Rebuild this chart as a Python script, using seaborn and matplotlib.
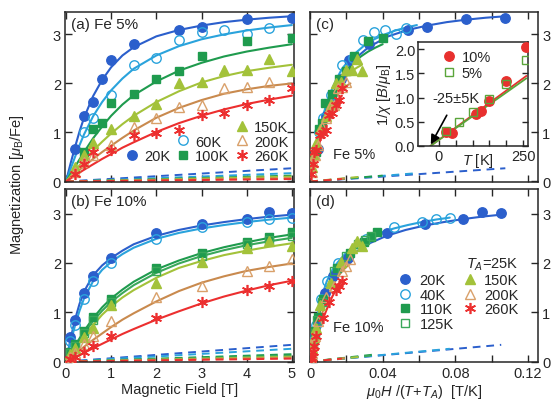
import matplotlib
matplotlib.use("Agg")
import matplotlib.pyplot as plt
from matplotlib.lines import Line2D
import seaborn as sns

# ---- data ----
temps_5 = ["20K", "60K", "100K", "150K", "200K", "260K"]
temps_10 = ["20K", "40K", "110K", "125K", "150K", "200K", "260K"]
# effective (T + T_A) used for the scaled panels (c), (d)
t_scale_5 = [46.5, 85, 125, 175, 225, 285]
t_scale_10 = [47.5, 65, 135, 150, 175, 225, 285]

# (a) Fe 5% measured points
field_a = {
    "20K": [0.2, 0.4, 0.6, 0.8, 1.0, 1.5, 2.5, 3.0, 4.0, 5.0],
    "60K": [0.4, 0.6, 1.0, 1.5, 2.0, 2.5, 3.0, 3.5, 4.0, 4.5],
    "100K": [0.4, 0.6, 0.8, 1.0, 1.5, 2.0, 2.5, 3.0, 4.0, 5.0],
    "150K": [0.2, 0.4, 0.6, 1.0, 1.5, 2.0, 2.5, 3.0, 3.5, 4.0, 4.5, 5.0],
    "200K": [0.2, 0.4, 0.6, 1.0, 1.5, 2.0, 2.5, 3.0, 3.5, 4.0, 4.5],
    "260K": [0.2, 0.4, 0.6, 1.0, 1.5, 2.0, 2.5, 3.0, 3.5, 4.0, 4.5, 5.0],
}
mag_a = {
    "20K": [0.66, 1.33, 1.63, 2.09, 2.47, 2.81, 3.08, 3.16, 3.31, 3.33],
    "60K": [1.0, 1.3, 1.76, 2.37, 2.51, 2.88, 3.05, 3.09, 3.0, 3.14],
    "100K": [0.6, 1.08, 1.2, 1.6, 1.78, 2.1, 2.25, 2.56, 2.86, 2.92],
    "150K": [0.3, 0.55, 0.78, 1.07, 1.34, 1.59, 2.0, 2.02, 2.27, 2.27, 2.5, 2.25],
    "200K": [0.2, 0.4, 0.55, 0.74, 1.11, 1.29, 1.52, 1.56, 1.9, 1.93, 2.03],
    "260K": [0.15, 0.35, 0.6, 0.64, 0.95, 0.98, 1.05, 1.35, 1.39, 1.56, 1.66, 1.91],
}
# (b) Fe 10% measured points
field_b = [0.1, 0.2, 0.4, 0.6, 1.0, 2.0, 3.0, 4.0, 4.5, 5.0]
mag_b = {
    "20K": [0.5, 0.84, 1.39, 1.73, 2.1, 2.6, 2.8, 2.9, 3.03, 3.02],
    "40K": [0.42, 0.75, 1.26, 1.64, 2.0, 2.48, 2.72, 2.84, 2.9, 2.92],
    "110K": [0.2, 0.35, 0.63, 0.9, 1.27, 1.89, 2.2, 2.43, 2.53, 2.63],
    "125K": [0.18, 0.32, 0.58, 0.84, 1.2, 1.84, 2.15, 2.38, 2.47, 2.55],
    "150K": [0.15, 0.28, 0.5, 0.68, 1.15, 1.6, 2.02, 2.3, 2.45, 2.35],
    "200K": [0.09, 0.18, 0.36, 0.52, 0.82, 1.3, 1.54, 1.84, 1.93, 2.08],
    "260K": [0.05, 0.1, 0.2, 0.32, 0.52, 0.89, 1.2, 1.45, 1.54, 1.63],
}

# fitted curves
fit_field = [0, 0.1, 0.2, 0.3, 0.4, 0.6, 0.8, 1.0, 1.25, 1.5, 2, 2.5, 3, 3.5, 4, 4.5, 5]
fit_a = {
    "20K": [0, 0.36, 0.7, 1.02, 1.3, 1.74, 2.07, 2.33, 2.57, 2.74, 2.96, 3.09, 3.18, 3.25, 3.3, 3.34, 3.37],
    "60K": [0, 0.25, 0.5, 0.74, 0.96, 1.33, 1.62, 1.86, 2.1, 2.3, 2.57, 2.76, 2.9, 3.0, 3.08, 3.14, 3.19],
    "100K": [0, 0.15, 0.3, 0.45, 0.6, 0.88, 1.12, 1.34, 1.57, 1.76, 2.04, 2.26, 2.42, 2.55, 2.65, 2.73, 2.8],
    "150K": [0, 0.11, 0.22, 0.33, 0.43, 0.63, 0.81, 0.98, 1.17, 1.34, 1.62, 1.84, 2.02, 2.15, 2.25, 2.32, 2.38],
    "200K": [0, 0.08, 0.16, 0.24, 0.31, 0.46, 0.6, 0.73, 0.89, 1.04, 1.3, 1.5, 1.66, 1.79, 1.88, 1.95, 2.0],
    "260K": [0, 0.06, 0.12, 0.18, 0.24, 0.35, 0.46, 0.56, 0.69, 0.8, 1.01, 1.19, 1.34, 1.47, 1.58, 1.67, 1.75],
}
fit_b = {
    "20K": [0, 0.45, 0.85, 1.17, 1.42, 1.75, 1.95, 2.1, 2.25, 2.38, 2.55, 2.67, 2.76, 2.83, 2.89, 2.94, 2.98],
    "40K": [0, 0.38, 0.73, 1.03, 1.28, 1.63, 1.86, 2.02, 2.18, 2.31, 2.49, 2.61, 2.7, 2.77, 2.83, 2.88, 2.92],
    "110K": [0, 0.16, 0.32, 0.47, 0.62, 0.88, 1.1, 1.28, 1.46, 1.62, 1.87, 2.05, 2.2, 2.32, 2.42, 2.51, 2.58],
    "125K": [0, 0.145, 0.29, 0.43, 0.57, 0.82, 1.03, 1.21, 1.39, 1.55, 1.8, 1.99, 2.14, 2.26, 2.36, 2.44, 2.51],
    "150K": [0, 0.13, 0.26, 0.39, 0.51, 0.74, 0.95, 1.12, 1.3, 1.45, 1.7, 1.9, 2.04, 2.16, 2.25, 2.33, 2.4],
    "200K": [0, 0.075, 0.15, 0.225, 0.3, 0.44, 0.57, 0.7, 0.85, 0.98, 1.22, 1.43, 1.6, 1.73, 1.84, 1.92, 1.99],
    "260K": [0, 0.045, 0.09, 0.135, 0.18, 0.27, 0.36, 0.45, 0.56, 0.66, 0.85, 1.02, 1.18, 1.32, 1.44, 1.55, 1.64],
}
# linear (dashed) contribution, value at 5 T
dash_end_a = [0.27, 0.17, 0.12, 0.1, 0.07, 0.05]
dash_end_b = [0.34, 0.26, 0.15, 0.12, 0.1, 0.08, 0.06]

# inset: 1/chi vs T
inset_t_10 = [20, 40, 110, 125, 150, 200, 260]
inset_chi_10 = [0.28, 0.27, 0.66, 0.73, 0.93, 1.34, 2.04]
inset_t_5 = [20, 60, 100, 150, 200, 260]
inset_chi_5 = [0.32, 0.5, 0.71, 0.97, 1.28, 1.78]
inset_fit_t = [-25, 260]
inset_fit_10 = [0, 1.45]
inset_fit_5 = [0, 1.40]

# ---- styles ----
colors = {"20K": "#2b5fcc", "40K": "#2aa3dc", "60K": "#2aa3dc", "100K": "#1f9b4e",
          "110K": "#1f9b4e", "125K": "#3aa85a", "150K": "#a3c23a", "200K": "#c98a4e",
          "260K": "#ec2f2f"}
marker_style = {
    "20K": dict(marker="o", ms=6.8),
    "40K": dict(marker="o", ms=6.8, mfc="none"),
    "60K": dict(marker="o", ms=6.8, mfc="none"),
    "100K": dict(marker="s", ms=6.2),
    "110K": dict(marker="s", ms=6.2),
    "125K": dict(marker="s", ms=6.2, mfc="none"),
    "150K": dict(marker="^", ms=7.2),
    "200K": dict(marker="^", ms=7.2, mfc="none"),
    "260K": dict(marker=(6, 2, 0), ms=8, mew=1.2),
}

sns.set_style("ticks")
plt.rcParams["font.family"] = ["Liberation Sans", "DejaVu Sans"]
plt.rcParams["mathtext.fontset"] = "custom"
plt.rcParams["mathtext.rm"] = "Liberation Sans"
plt.rcParams["mathtext.it"] = "Liberation Sans:italic"
plt.rcParams["font.size"] = 10.5
plt.rcParams["axes.linewidth"] = 1.1

fig = plt.figure(figsize=(5.56, 4.14), dpi=100)
ax_a = fig.add_axes([0.117, 0.558, 0.412, 0.411])
ax_b = fig.add_axes([0.117, 0.123, 0.412, 0.418])
ax_c = fig.add_axes([0.5576, 0.558, 0.410, 0.411])
ax_d = fig.add_axes([0.5576, 0.123, 0.410, 0.418])


def draw_points(ax, x, y, key):
    st = dict(marker_style[key])
    c = "#d9a06a" if key == "200K" else colors[key]
    mfc = st.pop("mfc", c)
    return ax.plot(x, y, linestyle="none", color=c, mfc=mfc, mec=c, zorder=3, **st)[0]


def draw_panel(ax_left, ax_right, temps, fields, mags, fits, dash_end, t_scale):
    handles = {}
    for i, key in enumerate(temps):
        fx = fields[key] if isinstance(fields, dict) else fields
        # dashed linear part
        sns.lineplot(x=[0, 5], y=[0, dash_end[i]], ax=ax_left, color=colors[key],
                     lw=1.4, linestyle=(0, (4, 3)), zorder=1, legend=False)
        sns.lineplot(x=[0, 5 / t_scale[i]], y=[0, dash_end[i]], ax=ax_right,
                     color=colors[key], lw=1.4, linestyle=(0, (4, 3)), zorder=1,
                     legend=False)
        # fit curves
        sns.lineplot(x=fit_field, y=fits[key], ax=ax_left, color=colors[key], lw=1.5,
                     sort=False, estimator=None, zorder=2, legend=False)
        sns.lineplot(x=[f / t_scale[i] for f in fit_field], y=fits[key], ax=ax_right,
                     color=colors[key], lw=1.5, sort=False, estimator=None, zorder=2,
                     legend=False)
        handles[key] = draw_points(ax_left, fx, mags[key], key)
        draw_points(ax_right, [f / t_scale[i] for f in fx], mags[key], key)
    return handles


h_a = draw_panel(ax_a, ax_c, temps_5, field_a, mag_a, fit_a, dash_end_a, t_scale_5)
h_b = draw_panel(ax_b, ax_d, temps_10, field_b, mag_b, fit_b, dash_end_b, t_scale_10)

for ax in (ax_a, ax_b):
    ax.set_xlim(-0.02, 5.05)
    ax.set_xticks([0, 1, 2, 3, 4, 5])
    ax.set_yticks([0, 1, 2, 3])
    ax.tick_params(direction="in", length=5, width=1, top=True, right=True, pad=3)
for ax in (ax_c, ax_d):
    ax.set_xlim(0, 0.1255)
    ax.set_xticks([0, 0.02, 0.04, 0.06, 0.08, 0.1, 0.12])
    ax.set_xticklabels(["0", "", "0.04", "", "0.08", "", "0.12"])
    ax.set_yticks([0, 1, 2, 3])
    ax.tick_params(direction="in", length=5, width=1, top=True, right=True,
                   left=True, labelleft=False, labelright=True, pad=3)
ax_a.set_ylim(-0.01, 3.46)
ax_c.set_ylim(-0.01, 3.46)
ax_b.set_ylim(-0.01, 3.5)
ax_d.set_ylim(-0.01, 3.5)
ax_a.tick_params(labelbottom=False)
ax_c.tick_params(labelbottom=False)
for ax in (ax_a, ax_b, ax_c, ax_d):
    ax.set_xlabel("")
    ax.set_ylabel("")
    if ax.get_legend() is not None:
        ax.get_legend().remove()

ax_b.set_xlabel("Magnetic Field [T]", labelpad=1)
ax_d.set_xlabel(r"$\mu_0H$ /($T$+$T_A$)  [T/K]", labelpad=1)
fig.text(0.03, 0.553, r"Magnetization [$\mu_{\rm B}$/Fe]", rotation=90,
         ha="center", va="center", fontsize=10.5)

ax_a.text(0.025, 0.93, "(a) Fe 5%", transform=ax_a.transAxes, va="center", fontsize=11)
ax_b.text(0.025, 0.93, "(b) Fe 10%", transform=ax_b.transAxes, va="center", fontsize=11)
ax_c.text(0.025, 0.93, "(c)", transform=ax_c.transAxes, va="center", fontsize=11)
ax_d.text(0.025, 0.93, "(d)", transform=ax_d.transAxes, va="center", fontsize=11)
ax_c.text(0.1, 0.165, "Fe 5%", transform=ax_c.transAxes, va="center", fontsize=10.5)
ax_d.text(0.1, 0.2, "Fe 10%", transform=ax_d.transAxes, va="center", fontsize=10.5)

blank = Line2D([], [], linestyle="none", marker="")
ax_a.legend([blank, blank, h_a["20K"], blank, h_a["60K"], h_a["100K"],
             h_a["150K"], h_a["200K"], h_a["260K"]],
            ["", "", "20K", "", "60K", "100K", "150K", "200K", "260K"],
            ncol=3, loc="lower right", bbox_to_anchor=(1.02, 0.05), frameon=False,
            handlelength=1.0, handletextpad=0.3, columnspacing=0.4,
            labelspacing=0.05, borderpad=0.2, fontsize=10.5)
ax_d.legend([h_b["20K"], h_b["40K"], h_b["110K"], h_b["125K"],
             h_b["150K"], h_b["200K"], h_b["260K"], blank],
            ["20K", "40K", "110K", "125K", "150K", "200K", "260K", ""],
            ncol=2, loc="lower right", bbox_to_anchor=(0.96, 0.12), frameon=False,
            handlelength=1.0, handletextpad=0.5, columnspacing=0.6,
            labelspacing=0.05, borderpad=0.2, fontsize=10.5,
            title=r"$T_A$=25K", title_fontsize=10.5, alignment="right")

# inset in (c)
ax_in = fig.add_axes([0.7518, 0.645, 0.198, 0.251])
ax_in.set_facecolor("white")
sns.lineplot(x=inset_fit_t, y=inset_fit_10, ax=ax_in, color="#e8302e", lw=1.3, legend=False)
sns.lineplot(x=inset_fit_t, y=inset_fit_5, ax=ax_in, color="#5aa53a", lw=1.3, legend=False)
ax_in.plot(inset_t_10, inset_chi_10, linestyle="none", marker="o", ms=6.8,
           color="#e8302e", label="10%", zorder=3)
ax_in.plot(inset_t_5, inset_chi_5, linestyle="none", marker="s", ms=6.2, mfc="none",
           mec="#5aa53a", color="#5aa53a", label="5%", zorder=3)
ax_in.set_xlim(-62, 265)
ax_in.set_ylim(0, 2.15)
ax_in.set_xticks([0, 50, 100, 150, 200, 250])
ax_in.set_xticklabels(["0", "", "", "", "", "250"])
ax_in.set_yticks([0, 0.5, 1.0, 1.5, 2.0])
ax_in.set_yticklabels(["0.0", "0.5", "1.0", "1.5", "2.0"])
ax_in.tick_params(direction="in", length=4, width=1, right=True, top=False, pad=2)
ax_in.set_xlabel("")
ax_in.set_ylabel(r"1/$\chi$ [$B/\mu_{\rm B}$]", labelpad=1)
ax_in.text(0.54, -0.045, r"$T$ [K]", transform=ax_in.transAxes, ha="center", va="top")
ax_in.legend(loc="upper left", bbox_to_anchor=(0.12, 1.02), frameon=False,
             handlelength=1.0, handletextpad=0.4, labelspacing=0.1, borderpad=0.2,
             fontsize=10.5)
ax_in.annotate("-25±5K", xy=(-24, 0.03), xytext=(-18, 1.0), fontsize=10.5,
               ha="left", va="center",
               arrowprops=dict(arrowstyle="-|>", color="k", lw=1.2, mutation_scale=14,
                               shrinkA=6, shrinkB=0))

fig.savefig("out.png", dpi=100)
